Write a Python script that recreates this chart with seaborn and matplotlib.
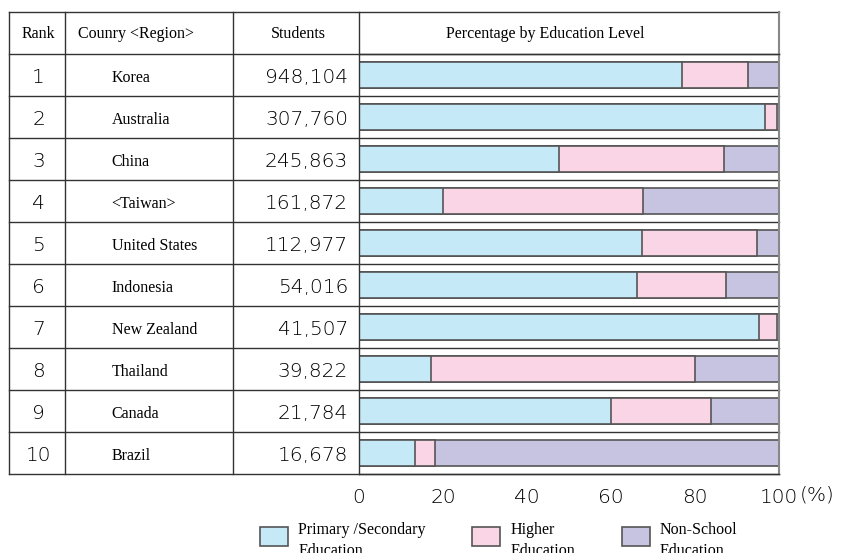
import matplotlib
matplotlib.use("Agg")
import matplotlib.pyplot as plt
from matplotlib.patches import Patch, Rectangle
from matplotlib.legend_handler import HandlerPatch
import numpy as np
import pandas as pd
import seaborn as sns

ranks = [1, 2, 3, 4, 5, 6, 7, 8, 9, 10]
countries = ["Korea", "Australia", "China", "<Taiwan>", "United States",
             "Indonesia", "New Zealand", "Thailand", "Canada", "Brazil"]
students = [948104, 307760, 245863, 161872, 112977, 54016, 41507, 39822, 21784, 16678]
primary = [76.8, 96.6, 47.6, 20.0, 67.3, 66.3, 95.2, 17.1, 59.9, 13.3]
higher = [15.7, 2.9, 39.3, 47.6, 27.5, 21.0, 4.4, 62.9, 23.8, 4.9]
nonschool = [7.5, 0.5, 13.1, 32.4, 5.2, 12.7, 0.4, 20.0, 16.3, 81.8]
headers = ["Rank", "Counry <Region>", "Students", "Percentage by Education Level"]
legend_labels = ["Primary /Secondary\nEducation", "Higher\nEducation", "Non-School\nEducation"]
xticks = [0, 20, 40, 60, 80, 100]

blue, pink, purple = "#C6E9F8", "#F9D5E6", "#C7C4E1"
edge = "#555555"
line = "#333333"

df = pd.DataFrame({"country": countries, "primary": primary,
                   "higher": higher, "nonschool": nonschool})
df["upto_higher"] = df["primary"] + df["higher"]
df["total"] = df["upto_higher"] + df["nonschool"]

serif = "Liberation Serif"
num = dict(family="DejaVu Sans", weight="light", size=14.5)

fig = plt.figure(figsize=(8.43, 5.53), dpi=100)
ax = fig.add_axes([359 / 843, 79 / 553, 420 / 843, 420 / 553])

# stacked bars: draw cumulative totals back to front
for col, c in [("total", purple), ("upto_higher", pink), ("primary", blue)]:
    sns.barplot(data=df, x=col, y="country", orient="h", color=c, saturation=1,
                edgecolor=edge, linewidth=1.2, width=0.64, ax=ax)

ax.set_xlim(0, 100)
ax.set_ylim(9.5, -0.5)
ax.set_xticks(xticks)
ax.set_xticklabels([str(t) for t in xticks], fontdict=num)
ax.set_yticks([])
ax.set_xlabel("")
ax.set_ylabel("")
ax.tick_params(axis="x", length=0, pad=10)
for s in ["top", "bottom", "left"]:
    ax.spines[s].set_color(line)
    ax.spines[s].set_linewidth(1)
ax.spines["right"].set_color("#888888")
ax.spines["right"].set_linewidth(1.5)
ax.annotate("(%)", xy=(1, 0), xycoords="axes fraction", xytext=(15, -15),
            textcoords="offset points", ha="left", va="center", **num)

# table around the bars (x in axes fraction, y in row units)
tr = ax.get_yaxis_transform()
x_left = -350 / 420
for y in np.arange(-1.5, 10, 1.0):
    ax.plot([x_left, 1], [y, y], color=line, lw=1, transform=tr, clip_on=False)
for xv in [x_left, -294 / 420, -126 / 420]:
    ax.plot([xv, xv], [-1.5, 9.5], color=line, lw=1, transform=tr, clip_on=False)
ax.plot([0, 0], [-1.5, -0.5], color=line, lw=1, transform=tr, clip_on=False)
ax.plot([1, 1], [-1.5, -0.5], color="#888888", lw=1.5, transform=tr, clip_on=False)

hx = [-0.763, -0.669, -0.144, 0.443]
ha = ["center", "left", "center", "center"]
for h, x, a in zip(headers, hx, ha):
    ax.text(x, -1 + 0.12, h, transform=tr, ha=a, va="baseline", family=serif, size=11.5)

for i, (r, c, s) in enumerate(zip(ranks, countries, students)):
    ax.text(-0.763, i + 0.19, str(r), transform=tr, ha="center", va="baseline", **num)
    ax.text(-0.589, i + 0.17, c, transform=tr, ha="left", va="baseline", family=serif, size=11.5)
    ax.text(-0.026, i + 0.19, f"{s:,}", transform=tr, ha="right", va="baseline", **num)


# legend boxes sit level with the first line of the two-line labels
def upper_box(legend, orig_handle, xdescent, ydescent, width, height, fontsize):
    return Rectangle((-xdescent, -ydescent + 0.3 * fontsize), width, height)


handles = [Patch(facecolor=c, edgecolor=edge, linewidth=1.2, label=l)
           for c, l in zip([blue, pink, purple], legend_labels)]
leg = fig.legend(handles=handles, loc="upper left", bbox_to_anchor=(260 / 843, 1 - 522 / 553),
                 ncol=3, frameon=False, prop=dict(family=serif, size=11.5),
                 handlelength=1.75, handleheight=1.45, handletextpad=0.65,
                 columnspacing=2.9, borderaxespad=0, borderpad=0, labelspacing=0,
                 handler_map={Patch: HandlerPatch(patch_func=upper_box)})
for t in leg.get_texts():
    t.set_linespacing(1.45)

fig.savefig("out.png", dpi=100)
